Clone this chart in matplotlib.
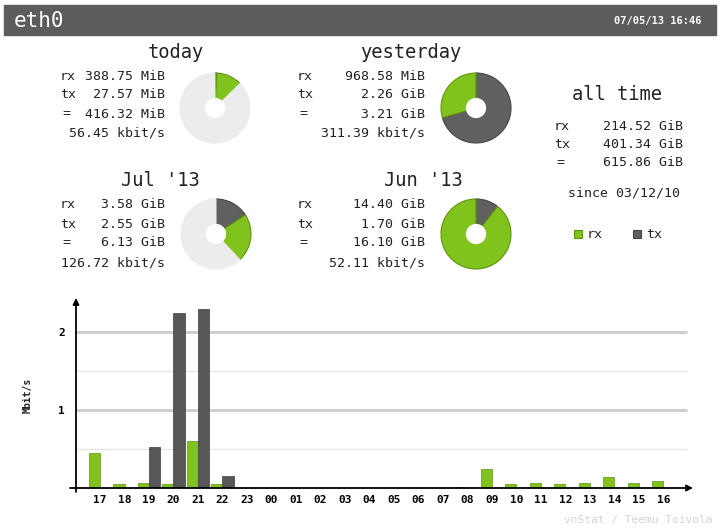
import matplotlib
matplotlib.use("Agg")
import matplotlib.pyplot as plt
from matplotlib.patches import Rectangle, Circle
import numpy as np

# ---------------- data ----------------
interface = "eth0"
timestamp = "07/05/13 16:46"
periods = ["today", "yesterday", "Jul '13", "Jun '13"]
rx_vals = [388.75, 968.58, 3.58, 14.40]
rx_units = ["MiB", "MiB", "GiB", "GiB"]
tx_vals = [27.57, 2.26, 2.55, 1.70]
tx_units = ["MiB", "GiB", "GiB", "GiB"]
tot_vals = [416.32, 3.21, 6.13, 16.10]
tot_units = ["MiB", "GiB", "GiB", "GiB"]
rates = [56.45, 311.39, 126.72, 52.11]

alltime_rx = 214.52
alltime_tx = 401.34
alltime_tot = 615.86
alltime_unit = "GiB"
since = "03/12/10"

hours = ["17", "18", "19", "20", "21", "22", "23", "00", "01", "02", "03", "04",
         "05", "06", "07", "08", "09", "10", "11", "12", "13", "14", "15", "16"]
hour_rx = [0.45, 0.05, 0.06, 0.05, 0.60, 0.05, 0, 0, 0, 0, 0, 0,
           0, 0, 0, 0.01, 0.24, 0.05, 0.07, 0.05, 0.07, 0.14, 0.07, 0.09]
hour_tx = [0, 0, 0.52, 2.24, 2.29, 0.16, 0, 0, 0, 0, 0, 0,
           0, 0, 0, 0, 0, 0, 0, 0, 0, 0, 0, 0]
y_ticks = [1, 2]
y_grid_major = [1, 2]
y_grid_minor = [0.5, 1.5]

# ---------------- styles ----------------
W, H = 720, 532
GREEN = "#80c31c"
GREEN_E = "#5f9410"
DARK = "#606060"
DARK_E = "#454545"
LIGHT = "#ececec"
MONO = "DejaVu Sans Mono"

fig = plt.figure(figsize=(W / 100, H / 100), dpi=100)
base = fig.add_axes([0, 0, 1, 1])
base.set_xlim(0, W)
base.set_ylim(H, 0)
base.axis("off")

# header
base.add_patch(Rectangle((4, 5), 712, 30, color="#5c5c5c", zorder=1))
base.text(14, 21, interface, color="white", fontsize=15, family=MONO,
          va="center", ha="left")
base.text(702, 21, timestamp, color="white", fontsize=7.5, family=MONO,
          fontweight="bold", va="center", ha="right")

def unit_mib(v, u):
    return v * 1024 if u == "GiB" else v

# text blocks
blocks = [
    dict(title=(176, 53), lab=60, right=165, rows=[76, 95, 114, 133]),
    dict(title=(411, 53), lab=297, right=425, rows=[76, 95, 114, 133]),
    dict(title=(160, 180), lab=60, right=165, rows=[205, 224, 243, 263]),
    dict(title=(423, 180), lab=297, right=425, rows=[205, 224, 243, 263]),
]
TFS = 13.5
FS = 9.5
for i, b in enumerate(blocks):
    base.text(b["title"][0], b["title"][1], periods[i], fontsize=TFS, family=MONO,
              ha="center", va="center", color="#222222")
    r = b["rows"]
    base.text(b["lab"], r[0], "rx", fontsize=FS, family=MONO, va="center", color="#222222")
    base.text(b["lab"], r[1], "tx", fontsize=FS, family=MONO, va="center", color="#222222")
    base.text(b["lab"] + 2, r[2], "=", fontsize=FS, family=MONO, va="center", color="#222222")
    base.text(b["right"], r[0], f"{rx_vals[i]:.2f} {rx_units[i]}", fontsize=FS,
              family=MONO, va="center", ha="right", color="#222222")
    base.text(b["right"], r[1], f"{tx_vals[i]:.2f} {tx_units[i]}", fontsize=FS,
              family=MONO, va="center", ha="right", color="#222222")
    base.text(b["right"], r[2], f"{tot_vals[i]:.2f} {tot_units[i]}", fontsize=FS,
              family=MONO, va="center", ha="right", color="#222222")
    base.text(b["right"], r[3], f"{rates[i]:.2f} kbit/s", fontsize=FS,
              family=MONO, va="center", ha="right", color="#222222")

# all time
base.text(617, 94, "all time", fontsize=TFS, family=MONO, ha="center", va="center", color="#222222")
for y, lab, v in [(127, "rx", alltime_rx), (145, "tx", alltime_tx), (163, "=", alltime_tot)]:
    base.text(554 + (2 if lab == "=" else 0), y, lab, fontsize=FS, family=MONO, va="center", color="#222222")
    base.text(683, y, f"{v:.2f} {alltime_unit}", fontsize=FS, family=MONO,
              va="center", ha="right", color="#222222")
base.text(624, 193, f"since {since}", fontsize=FS, family=MONO, ha="center", va="center", color="#222222")
# legend
base.add_patch(Rectangle((574, 230), 8, 8, facecolor=GREEN, edgecolor=GREEN_E, lw=0.8))
base.text(587, 234, "rx", fontsize=FS, family=MONO, va="center", color="#222222")
base.add_patch(Rectangle((633, 230), 8, 8, facecolor=DARK, edgecolor=DARK_E, lw=0.8))
base.text(646, 234, "tx", fontsize=FS, family=MONO, va="center", color="#222222")

# pies
pie_centers = [(215, 108), (476, 108), (216, 234), (476, 234)]
R = 35
totals_mib = [unit_mib(tot_vals[i], tot_units[i]) for i in range(4)]
for i, (cx, cy) in enumerate(pie_centers):
    pair = (0, 1) if i < 2 else (2, 3)
    frac = totals_mib[i] / max(totals_mib[pair[0]], totals_mib[pair[1]])
    rx_m = unit_mib(rx_vals[i], rx_units[i])
    tx_m = unit_mib(tx_vals[i], tx_units[i])
    s = rx_m + tx_m
    vals = [tx_m / s * frac, rx_m / s * frac]
    cols = [DARK, GREEN]
    edges = [DARK_E, GREEN_E]
    if frac < 0.999:
        vals.append(1 - frac)
        cols.append(LIGHT)
        edges.append(LIGHT)
    pad = 2
    ax = fig.add_axes([(cx - R - pad) / W, (H - cy - R - pad) / H,
                       (2 * R + 2 * pad) / W, (2 * R + 2 * pad) / H])
    wedges, _ = ax.pie(vals, colors=cols, startangle=90, counterclock=False,
                       radius=1.0, normalize=False)
    for w, e in zip(wedges, edges):
        w.set_edgecolor(e)
        w.set_linewidth(0.8)
    ax.add_patch(Circle((0, 0), 0.29, facecolor="white", edgecolor="none", zorder=5))
    lim = (R + pad) / R
    ax.set_xlim(-lim, lim)
    ax.set_ylim(-lim, lim)
    ax.set_aspect("equal")
    ax.axis("off")

# bar chart
x0p, x1p, y0p, y1p = 76, 693, 488, 298
ax = fig.add_axes([x0p / W, (H - y0p) / H, (x1p - x0p) / W, (y0p - y1p) / H])
spacing = 24.5
xl = (x0p - 100) / spacing
xr = (x1p - 100) / spacing
ytop = (y0p - y1p) / 78.0
ax.set_xlim(xl, xr)
ax.set_ylim(0, ytop)
for sp in ax.spines.values():
    sp.set_visible(False)
gx_end = (687 - 100) / spacing
for g in y_grid_major:
    ax.plot([xl, gx_end], [g, g], color="#cfcfcf", lw=2.2, zorder=1, solid_capstyle="butt")
for g in y_grid_minor:
    ax.plot([xl, gx_end], [g, g], color="#e6e6e6", lw=1.0, zorder=1, solid_capstyle="butt")

x = np.arange(len(hours))
bw = 0.45
ax.bar(x, hour_rx, width=-bw, align="edge", color=GREEN, edgecolor=GREEN_E, lw=0.5, zorder=3)
tx_idx = [i for i, v in enumerate(hour_tx) if v > 0]
ax.bar(x[tx_idx], [hour_tx[i] for i in tx_idx], width=bw, align="edge",
       color="#585858", edgecolor="#3c3c3c", lw=0.5, zorder=3)

ax.annotate("", xy=(xr, 0), xytext=((70 - 100) / spacing, 0),
            arrowprops=dict(arrowstyle="-|>", color="black", lw=1.3, mutation_scale=9,
                            shrinkA=0, shrinkB=0), annotation_clip=False, zorder=4)
ax.annotate("", xy=(xl, ytop), xytext=(xl, -0.05),
            arrowprops=dict(arrowstyle="-|>", color="black", lw=1.3, mutation_scale=9,
                            shrinkA=0, shrinkB=0), annotation_clip=False, zorder=4)

ax.set_xticks(x)
ax.set_xticklabels(hours, fontsize=8, family=MONO, fontweight="bold")
ax.set_yticks(y_ticks)
ax.set_yticklabels([str(t) for t in y_ticks], fontsize=8, family=MONO, fontweight="bold")
ax.tick_params(axis="x", length=0, pad=5)
ax.tick_params(axis="y", length=0, pad=8)
ax.patch.set_visible(False)

base.text(28, 395, "Mbit/s", rotation=90, fontsize=7, family=MONO, fontweight="bold",
          ha="center", va="center", color="#222222")
base.text(712, 520, "vnStat / Teemu Toivola", fontsize=8, family=MONO,
          ha="right", va="center", color="#d4d4d4")

fig.savefig("out.png", dpi=100)
